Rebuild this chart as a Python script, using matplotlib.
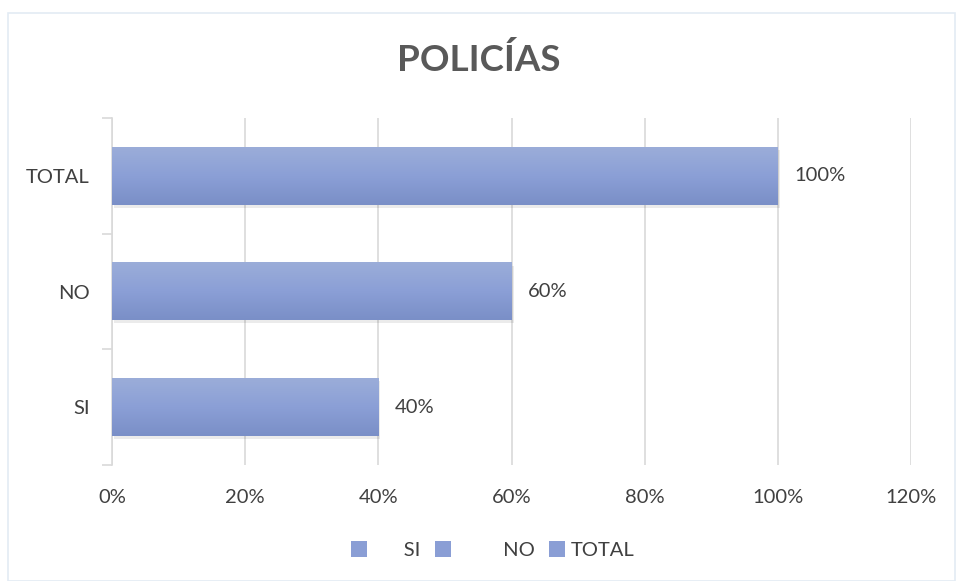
import matplotlib.pyplot as plt
import numpy as np
from matplotlib.patches import Rectangle
from matplotlib.ticker import FuncFormatter

categories = ['SI', 'NO', 'TOTAL']
values = [0.40, 0.60, 1.00]
value_labels = ['40%', '60%', '100%']

plt.rcParams['font.family'] = ['Lato', 'DejaVu Sans']

fig = plt.figure(figsize=(9.57, 5.81), dpi=100)
ax = fig.add_axes([0.117, 0.1997, 0.835, 0.597])

# chart border
fig.patches.append(Rectangle((0.008, 0.0), 0.99, 0.978, transform=fig.transFigure,
                             fill=False, edgecolor='#e3ebf4', linewidth=1.2))

y = np.arange(len(categories))
bars = ax.barh(y, values, height=0.5, color='none', zorder=3)

# gradient fill + soft shadow for each bar
grad = np.linspace(0, 1, 100).reshape(-1, 1)
cmap = plt.matplotlib.colors.LinearSegmentedColormap.from_list('g', ['#7a8fc7', '#8b9fd6', '#9badd9'])
for b in bars:
    x0, y0, w, h = b.get_x(), b.get_y(), b.get_width(), b.get_height()
    ax.add_patch(Rectangle((x0 + 0.003, y0 - 0.025), w, h, facecolor='#000000',
                           alpha=0.08, edgecolor='none', zorder=2))
    ax.imshow(grad, extent=[x0, x0 + w, y0 + h, y0], cmap=cmap, aspect='auto', zorder=3)

for yi, v, lab in zip(y, values, value_labels):
    ax.text(v + 0.025, yi, lab, va='center', ha='left', fontsize=14.5, color='#404040')

ax.set_xlim(0, 1.2)
ax.set_ylim(-0.5, 2.5)
ax.set_xticks(np.arange(0, 1.21, 0.2))
ax.xaxis.set_major_formatter(FuncFormatter(lambda v, p: f'{v*100:.0f}%'))
ax.set_yticks(y)
ax.set_yticklabels(categories)
ax.set_yticks([-0.5, 0.5, 1.5, 2.5], minor=True)
ax.tick_params(axis='y', which='major', length=0, pad=16, labelsize=14.5, labelcolor='#404040')
ax.tick_params(axis='y', which='minor', length=7, color='#d9d9d9', width=1.2)
ax.tick_params(axis='x', length=0, pad=17, labelsize=14.5, labelcolor='#404040')
ax.grid(axis='x', color='#d9d9d9', linewidth=1.2, zorder=0)
ax.set_axisbelow(True)
for s in ['top', 'right', 'bottom']:
    ax.spines[s].set_visible(False)
ax.spines['left'].set_color('#d9d9d9')
ax.spines['left'].set_linewidth(1.2)

fig.text(0.5, 0.897, 'POLICÍAS', ha='center', va='center', fontsize=26.5,
         fontweight='bold', color='#595959')

handles = [Rectangle((0, 0), 1, 1, facecolor='#8a9ed5') for _ in categories]
leg = fig.legend(handles, ['      SI', '         NO', 'TOTAL'], loc='center',
                 bbox_to_anchor=(0.515, 0.053), ncol=3, frameon=False, fontsize=14.5,
                 handlelength=0.8, handleheight=0.8, handletextpad=0.3, columnspacing=0.7)
for t in leg.get_texts():
    t.set_color('#404040')

fig.savefig('out.png', dpi=100)
